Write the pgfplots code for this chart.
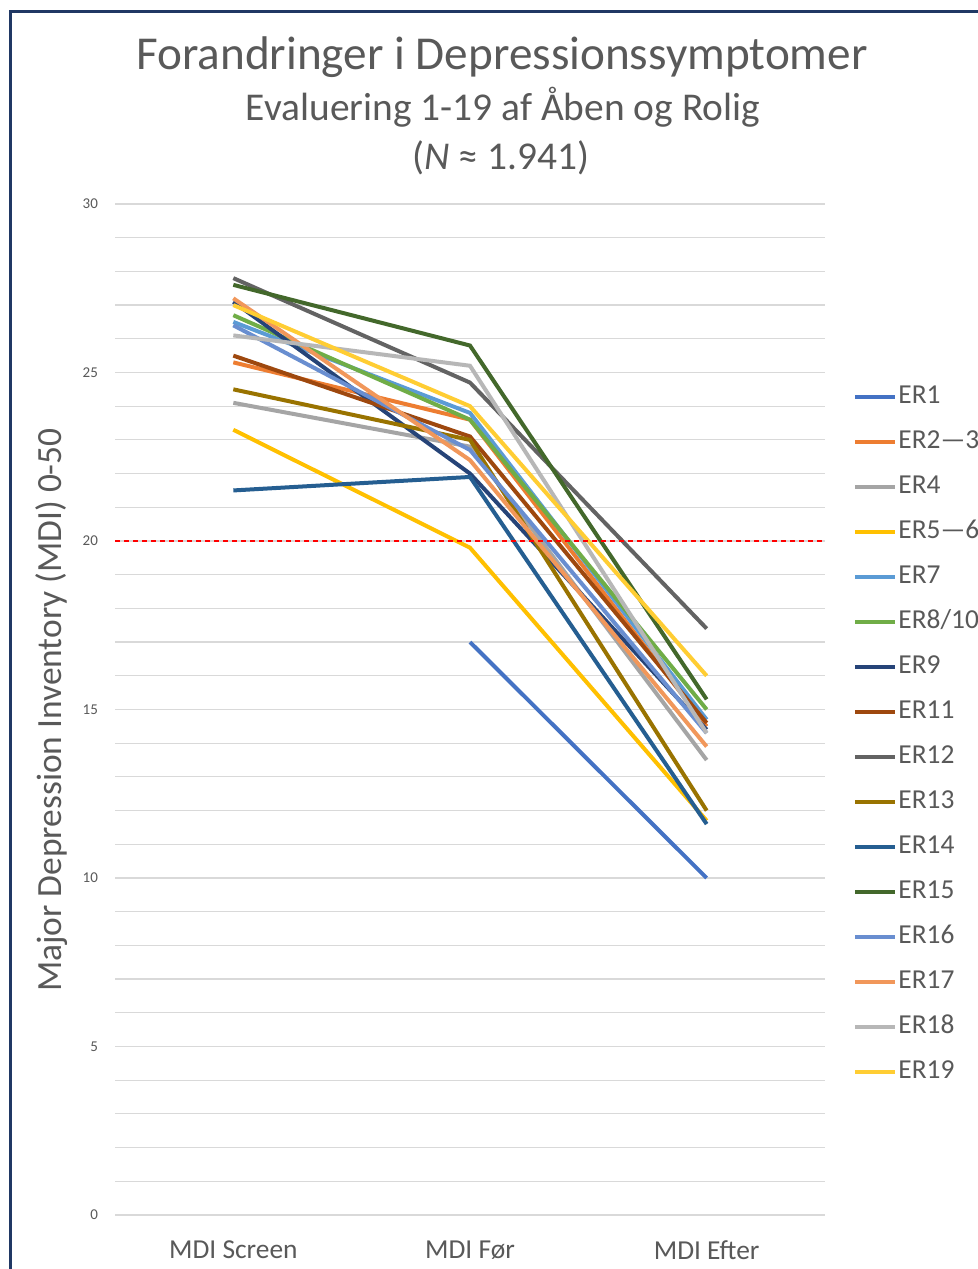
\documentclass[border=0pt]{standalone}
\usepackage{fontspec}
\setmainfont{Carlito}
\usepackage{pgfplots}
\pgfplotsset{compat=1.18}
\definecolor{txt}{HTML}{595959}
\definecolor{gridc}{HTML}{D9D9D9}
\definecolor{frame}{HTML}{203864}
\definecolor{c1}{HTML}{4472C4}
\definecolor{c2}{HTML}{ED7D31}
\definecolor{c3}{HTML}{A5A5A5}
\definecolor{c4}{HTML}{FFC000}
\definecolor{c5}{HTML}{5B9BD5}
\definecolor{c6}{HTML}{70AD47}
\definecolor{c7}{HTML}{264478}
\definecolor{c8}{HTML}{9E480E}
\definecolor{c9}{HTML}{636363}
\definecolor{c10}{HTML}{997300}
\definecolor{c11}{HTML}{255E91}
\definecolor{c12}{HTML}{43682B}
\definecolor{c13}{HTML}{698ED0}
\definecolor{c14}{HTML}{F1975A}
\definecolor{c15}{HTML}{B7B7B7}
\definecolor{c16}{HTML}{FFCD33}
\begin{document}
\begin{tikzpicture}
\begin{scope}[x=0.5pt,y=0.5pt]
\fill[white] (0,0) rectangle (978,1269);
\draw[frame, line width=1.5pt] (10,0) -- (10,1257) -- (980,1257);
\end{scope}
\begin{axis}[
  at={(57.5pt,27pt)}, anchor=south west,
  scale only axis, width=355pt, height=505.5pt,
  xmin=-0.5, xmax=2.5, ymin=0, ymax=30,
  xtick={0,1,2}, xticklabels={MDI Screen, MDI Før, MDI Efter},
  ytick={0,5,...,30}, minor y tick num=4,
  ymajorgrids, yminorgrids,
  major grid style={gridc, line width=0.6pt},
  minor grid style={gridc, line width=0.6pt},
  axis line style={draw=none},
  major tick length=0pt, minor tick length=0pt,
  tick style={draw=none},
  /pgf/number format/assume math mode=true,
  yticklabel style={font=\fontsize{7.5}{9}\selectfont, text=txt, xshift=-5pt},
  xticklabel style={font=\fontsize{13.7}{16}\selectfont, text=txt, yshift=-9.5pt},
  every axis plot/.append style={line width=2pt},
  legend style={at={(1.031,0.826)}, anchor=north west, draw=none, fill=none,
    font=\fontsize{13.7}{15}\selectfont, text=txt,
    nodes={text height=9.5pt, text depth=3pt, inner sep=0pt},
    row sep=10pt, column sep=0.5pt},
  legend cell align=left,
  legend image code/.code={\draw[#1, line width=2pt] (0pt,0pt) -- (20pt,0pt);},
]
\addplot[c1] coordinates {(1,17.0) (2,10.0)};
\addlegendentry{ER1}
\addplot[c2] coordinates {(0,25.3) (1,23.6) (2,14.5)};
\addlegendentry{ER2—3}
\addplot[c3] coordinates {(0,24.1) (1,22.8) (2,13.5)};
\addlegendentry{ER4}
\addplot[c4] coordinates {(0,23.3) (1,19.8) (2,11.7)};
\addlegendentry{ER5—6}
\addplot[c5] coordinates {(0,26.5) (1,23.8) (2,14.7)};
\addlegendentry{ER7}
\addplot[c6] coordinates {(0,26.7) (1,23.6) (2,15.0)};
\addlegendentry{ER8/10}
\addplot[c7] coordinates {(0,27.1) (1,22.0) (2,14.4)};
\addlegendentry{ER9}
\addplot[c8] coordinates {(0,25.5) (1,23.1) (2,14.6)};
\addlegendentry{ER11}
\addplot[c9] coordinates {(0,27.8) (1,24.7) (2,17.4)};
\addlegendentry{ER12}
\addplot[c10] coordinates {(0,24.5) (1,23.0) (2,12.0)};
\addlegendentry{ER13}
\addplot[c11] coordinates {(0,21.5) (1,21.9) (2,11.6)};
\addlegendentry{ER14}
\addplot[c12] coordinates {(0,27.6) (1,25.8) (2,15.3)};
\addlegendentry{ER15}
\addplot[c13] coordinates {(0,26.4) (1,22.7) (2,14.3)};
\addlegendentry{ER16}
\addplot[c14] coordinates {(0,27.2) (1,22.4) (2,13.9)};
\addlegendentry{ER17}
\addplot[c15] coordinates {(0,26.1) (1,25.2) (2,14.3)};
\addlegendentry{ER18}
\addplot[c16] coordinates {(0,27.0) (1,24.0) (2,16.0)};
\addlegendentry{ER19}
\addplot[red, dashed, line width=0.7pt, dash pattern=on 2.5pt off 2pt, forget plot] coordinates {(-0.5,20) (2.5,20)};
\end{axis}
\begin{scope}[x=0.5pt,y=0.5pt]
\node[text=txt, font=\fontsize{23.6}{27}\selectfont] at (502,1212) {Forandringer i Depressionssymptomer};
\node[text=txt, font=\fontsize{19.7}{23}\selectfont] at (503,1162) {Evaluering 1-19 af Åben og Rolig};
\node[text=txt, font=\fontsize{19.7}{23}\selectfont] at (501,1111) {(\textit{N} ≈ 1.941)};
\node[text=txt, font=\fontsize{17.7}{20}\selectfont, rotate=90] at (52,559) {Major Depression Inventory (MDI) 0-50};
\pgfresetboundingbox
\useasboundingbox (0,0) rectangle (978,1269);
\end{scope}
\end{tikzpicture}
\end{document}
